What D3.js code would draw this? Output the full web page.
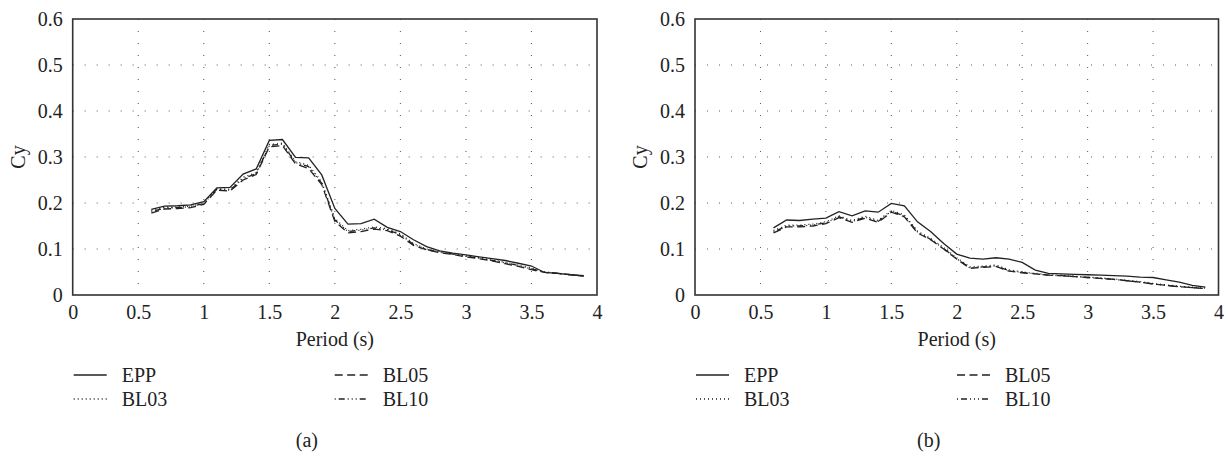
<!DOCTYPE html>
<html>
<head>
<meta charset="utf-8">
<script src="https://cdn.jsdelivr.net/npm/d3@7"></script>
<style>
  body { margin: 0; background: #fff; }
  svg text { font-family: "Liberation Serif", "DejaVu Serif", serif; fill: #222; }
</style>
</head>
<body>
<div id="chart"></div>
<script>
// ******* Data *******
var periods = [0.6, 0.7, 0.8, 0.9, 1.0, 1.1, 1.2, 1.3, 1.4, 1.5, 1.6, 1.7, 1.8, 1.9, 2.0, 2.1, 2.2,
               2.3, 2.4, 2.5, 2.6, 2.7, 2.8, 2.9, 3.0, 3.1, 3.2, 3.3, 3.4, 3.5, 3.6, 3.7, 3.8, 3.9];

// panel (a)
var eppA  = [0.186, 0.193, 0.194, 0.196, 0.203, 0.233, 0.234, 0.263, 0.274, 0.336, 0.338, 0.299, 0.298, 0.261, 0.188, 0.154, 0.155,
             0.165, 0.147, 0.138, 0.120, 0.105, 0.096, 0.091, 0.087, 0.083, 0.079, 0.075, 0.069, 0.063, 0.049, 0.047, 0.044, 0.042];
var bl03A = [0.184, 0.191, 0.191, 0.193, 0.200, 0.231, 0.230, 0.256, 0.266, 0.327, 0.330, 0.290, 0.282, 0.246, 0.166, 0.140, 0.143,
             0.148, 0.144, 0.133, 0.112, 0.100, 0.094, 0.090, 0.085, 0.081, 0.076, 0.071, 0.065, 0.058, 0.050, 0.047, 0.044, 0.041];
var bl05A = [0.178, 0.187, 0.188, 0.190, 0.197, 0.228, 0.226, 0.250, 0.262, 0.322, 0.325, 0.285, 0.275, 0.240, 0.160, 0.135, 0.138,
             0.143, 0.140, 0.128, 0.108, 0.098, 0.092, 0.088, 0.083, 0.079, 0.074, 0.068, 0.062, 0.055, 0.049, 0.047, 0.044, 0.041];
var bl10A = [0.181, 0.189, 0.190, 0.192, 0.199, 0.230, 0.228, 0.253, 0.264, 0.325, 0.328, 0.288, 0.279, 0.243, 0.163, 0.138, 0.141,
             0.146, 0.142, 0.131, 0.110, 0.099, 0.093, 0.089, 0.084, 0.080, 0.075, 0.070, 0.064, 0.057, 0.050, 0.047, 0.044, 0.041];

// panel (b)
var eppB  = [0.146, 0.163, 0.162, 0.165, 0.167, 0.181, 0.172, 0.183, 0.180, 0.199, 0.194, 0.159, 0.138, 0.112, 0.089, 0.080, 0.078,
             0.081, 0.078, 0.071, 0.054, 0.047, 0.046, 0.045, 0.044, 0.043, 0.042, 0.041, 0.039, 0.038, 0.033, 0.028, 0.021, 0.017];
var bl03B = [0.140, 0.152, 0.152, 0.154, 0.159, 0.172, 0.162, 0.171, 0.162, 0.184, 0.174, 0.139, 0.123, 0.103, 0.081, 0.061, 0.063,
             0.065, 0.055, 0.050, 0.047, 0.044, 0.043, 0.041, 0.039, 0.037, 0.035, 0.032, 0.029, 0.025, 0.022, 0.019, 0.017, 0.015];
var bl05B = [0.135, 0.148, 0.148, 0.150, 0.155, 0.168, 0.158, 0.167, 0.158, 0.180, 0.170, 0.135, 0.120, 0.100, 0.078, 0.058, 0.060,
             0.062, 0.052, 0.048, 0.046, 0.043, 0.042, 0.040, 0.038, 0.036, 0.034, 0.031, 0.028, 0.024, 0.021, 0.018, 0.016, 0.014];
var bl10B = [0.137, 0.150, 0.150, 0.152, 0.157, 0.170, 0.160, 0.169, 0.160, 0.182, 0.172, 0.137, 0.121, 0.101, 0.079, 0.059, 0.061,
             0.063, 0.053, 0.049, 0.046, 0.043, 0.042, 0.040, 0.038, 0.036, 0.034, 0.031, 0.028, 0.024, 0.021, 0.018, 0.016, 0.014];

var seriesNames = ["EPP", "BL03", "BL05", "BL10"];
var xTicks = [0, 0.5, 1, 1.5, 2, 2.5, 3, 3.5, 4];
var xTickLabels = ["0", "0.5", "1", "1.5", "2", "2.5", "3", "3.5", "4"];
var yTicks = [0, 0.1, 0.2, 0.3, 0.4, 0.5, 0.6];
var yTickLabels = ["0", "0.1", "0.2", "0.3", "0.4", "0.5", "0.6"];
var panelLabels = ["(a)", "(b)"];

// ******* Layout / styles *******
var w = 1229, h = 462;
var dashes = ["none", "1,3", "8,4.5", "1,3,6,3,1,3,1,3"];
var ink = "#222";
var fs = "20px";
var svg = d3.select("#chart").append("svg").attr("width", w).attr("height", h);

var panels = [
  { left: 72.7, right: 597, label: panelLabels[0], data: [eppA, bl03A, bl05A, bl10A] },
  { left: 695, right: 1218.5, label: panelLabels[1], data: [eppB, bl03B, bl05B, bl10B] }
];
var plotTop = 19, plotBottom = 295;

panels.forEach(function (p) {
  var g = svg.append("g");
  var x = d3.scaleLinear().domain([0, 4]).range([p.left, p.right]);
  var y = d3.scaleLinear().domain([0, 0.6]).range([plotBottom, plotTop]);

  // grid (dotted)
  g.selectAll(".vgrid").data(xTicks.slice(1, -1)).enter().append("line")
    .attr("x1", d => x(d)).attr("x2", d => x(d))
    .attr("y1", plotTop).attr("y2", plotBottom)
    .attr("stroke", "#555").attr("stroke-width", 1).attr("stroke-dasharray", "1,11");
  g.selectAll(".hgrid").data(yTicks.slice(1, -1)).enter().append("line")
    .attr("y1", d => y(d)).attr("y2", d => y(d))
    .attr("x1", p.left).attr("x2", p.right)
    .attr("stroke", "#555").attr("stroke-width", 1).attr("stroke-dasharray", "1,11");

  // axes via d3 axis
  var xAxis = g.append("g").attr("transform", "translate(0," + plotBottom + ")")
    .call(d3.axisBottom(x).tickValues(xTicks).tickFormat((d, i) => xTickLabels[i]).tickSize(0).tickPadding(10));
  var yAxis = g.append("g").attr("transform", "translate(" + p.left + ",0)")
    .call(d3.axisLeft(y).tickValues(yTicks).tickFormat((d, i) => yTickLabels[i]).tickSize(0).tickPadding(10));
  [xAxis, yAxis].forEach(function (a) {
    a.select(".domain").remove();
    a.selectAll("text").style("font-size", fs).style("fill", ink)
      .style("font-family", '"Liberation Serif", serif');
  });

  // frame
  g.append("rect").attr("x", p.left).attr("y", plotTop)
    .attr("width", p.right - p.left).attr("height", plotBottom - plotTop)
    .attr("fill", "none").attr("stroke", "#333").attr("stroke-width", 1.6);

  // axis titles
  g.append("text").attr("x", (p.left + p.right) / 2).attr("y", 339).attr("dy", "0.35em")
    .attr("text-anchor", "middle").style("font-size", fs).text("Period (s)");
  g.append("text")
    .attr("transform", "translate(" + (p.left - 55) + "," + y(0.3) + ") rotate(-90)")
    .attr("text-anchor", "middle").attr("dy", "0.35em").style("font-size", fs).text("Cy");

  // curves
  var line = d3.line().x((d, i) => x(periods[i])).y(d => y(d));
  p.data.slice().reverse().forEach(function (vals, k) {
    var idx = p.data.length - 1 - k;
    g.append("path").attr("d", line(vals))
      .attr("fill", "none").attr("stroke", ink).attr("stroke-width", 1.3)
      .attr("stroke-dasharray", dashes[idx]);
  });

  // legend: two columns, two rows
  var colX = [p.left + 1, p.left + 262];
  var rowY = [375, 399];
  seriesNames.forEach(function (name, i) {
    var cx = colX[i < 2 ? 0 : 1];
    var cy = rowY[i % 2];
    g.append("line").attr("x1", cx).attr("x2", cx + 33).attr("y1", cy).attr("y2", cy)
      .attr("stroke", ink).attr("stroke-width", 1.3).attr("stroke-dasharray", dashes[i]);
    g.append("text").attr("x", cx + 48).attr("y", cy).attr("dy", "0.35em")
      .style("font-size", fs).text(name);
  });

  g.append("text").attr("x", (p.left + p.right) / 2 - 28).attr("y", 440).attr("dy", "0.35em")
    .attr("text-anchor", "middle").style("font-size", fs).text(p.label);
});
</script>
</body>
</html>
